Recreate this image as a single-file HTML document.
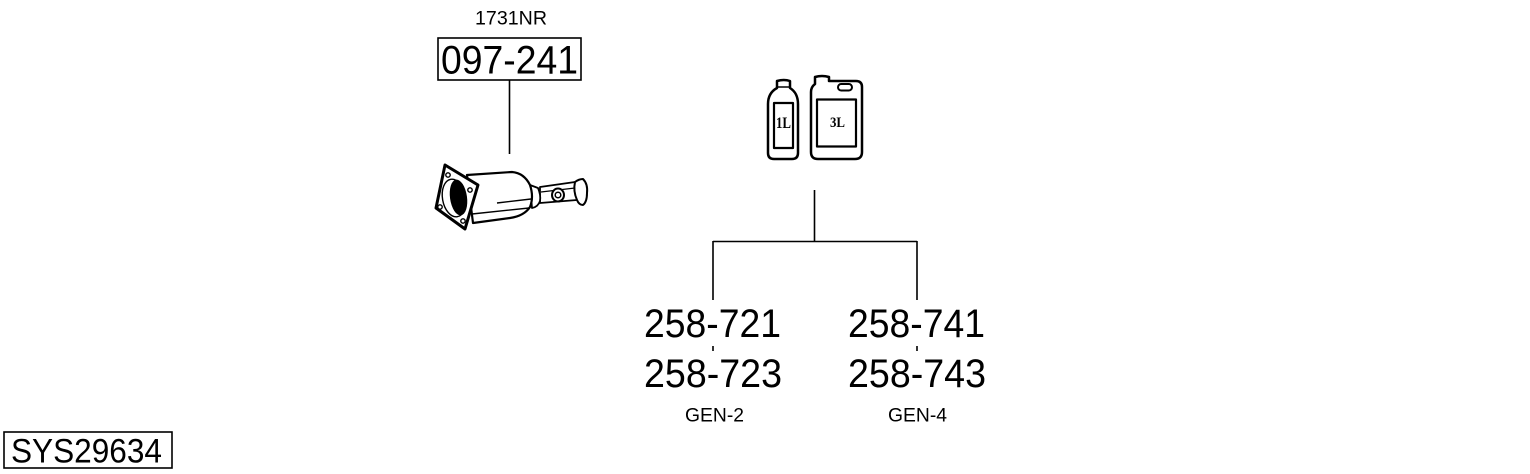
<!DOCTYPE html>
<html><head><meta charset="utf-8"><style>
html,body{margin:0;padding:0;background:#fff}
svg{display:block}
text{font-family:"Liberation Sans",sans-serif;fill:#000}
text.s{font-family:"Liberation Serif",serif;font-weight:bold}
</style></head><body>
<svg width="1530" height="474" viewBox="0 0 1530 474" xmlns="http://www.w3.org/2000/svg">
<rect width="1530" height="474" fill="#fff"/>
<g fill="none" stroke="#000" stroke-width="1.600">
<rect x="438" y="38" width="143" height="42"/>
<rect x="4" y="432" width="168" height="36"/>
<path d="M509.500 80V154M814.500 190V241.500M713 241.500H917M713 241V300M917 241V300M713 346V351M917 346V351"/>
</g>
<text x="475" y="24.500" font-size="19" textLength="72" lengthAdjust="spacingAndGlyphs">1731NR</text>
<text x="441" y="73.500" font-size="40" textLength="137" lengthAdjust="spacingAndGlyphs">097-241</text>
<text x="644" y="337" font-size="40" textLength="137" lengthAdjust="spacingAndGlyphs">258-721</text>
<text x="644" y="387" font-size="40" textLength="138" lengthAdjust="spacingAndGlyphs">258-723</text>
<text x="848" y="337" font-size="40" textLength="137" lengthAdjust="spacingAndGlyphs">258-741</text>
<text x="848" y="387" font-size="40" textLength="138" lengthAdjust="spacingAndGlyphs">258-743</text>
<text x="685" y="421.500" font-size="19" textLength="59" lengthAdjust="spacingAndGlyphs">GEN-2</text>
<text x="888" y="421.500" font-size="19" textLength="59" lengthAdjust="spacingAndGlyphs">GEN-4</text>
<text x="11" y="462.500" font-size="34" textLength="151" lengthAdjust="spacingAndGlyphs">SYS29634</text>
<g fill="#fff" stroke="#000" stroke-width="2" stroke-linejoin="round">
<path d="M540 187L575 182L577 200L540 203Z" stroke-width="1.800"/>
<path d="M575 182Q579 179 583 179Q588 184 587 193Q587 202 583 205Q579 205 577 200Q573 191 575 182Z"/>
<path d="M530 185L538 188Q541 195 540 201Q538 207 532 208Z" stroke-width="1.800"/>
<path d="M541 192L575 188" fill="none" stroke-width="1.200"/>
<ellipse cx="558" cy="195" rx="6" ry="6.500" stroke-width="2"/>
<circle cx="558" cy="195" r="2.800" stroke-width="1.500"/>
<path d="M467 175L512 172Q524 173 530 185Q534 197 530 207Q524 216 510 218L473 223Z" stroke-width="2.200"/>
<path d="M497 203L531 199M472 214L529 208" fill="none" stroke-width="1.400"/>
<path d="M445 165L478 185L465 229L436 208Z" stroke-width="3"/>
<ellipse cx="454" cy="198" rx="11.500" ry="19" transform="rotate(-10 454 198)" stroke-width="1.400"/>
<ellipse cx="458.500" cy="197.500" rx="8.500" ry="18" transform="rotate(-8 458.500 197.500)" fill="#000" stroke="none"/>
<g stroke-width="1.400">
<circle cx="448" cy="175" r="2.200"/><circle cx="470" cy="190" r="2.200"/><circle cx="463" cy="221" r="2.200"/><circle cx="440" cy="207" r="2.200"/>
</g>
</g>
<g fill="#fff" stroke="#000" stroke-width="2.500" stroke-linejoin="round">
<path d="M777 88L777 81Q784 79 790 81V88Q798 93 798 104V153Q798 159 792 159H774Q768 159 768 153V104Q768 93 777 88Z"/>
<path d="M777 87H790" fill="none" stroke-width="1.500"/>
<rect x="774" y="103" width="19" height="45" stroke-width="2.200"/>
<path d="M815 84V77Q822 75 829 77V81H856Q862 81 862 87V152Q862 159 855 159H818Q811 159 811 152V92Q811 87 815 84Z"/>
<rect x="838" y="84" width="14" height="6.500" rx="3.200" stroke-width="2"/>
<rect x="817" y="99.500" width="39" height="47" stroke-width="2.200"/>
</g>
<text class="s" x="776" y="128" font-size="15.500" textLength="15" lengthAdjust="spacingAndGlyphs">1L</text>
<text class="s" x="830" y="127" font-size="15" textLength="15" lengthAdjust="spacingAndGlyphs">3L</text>
</svg>
</body></html>
